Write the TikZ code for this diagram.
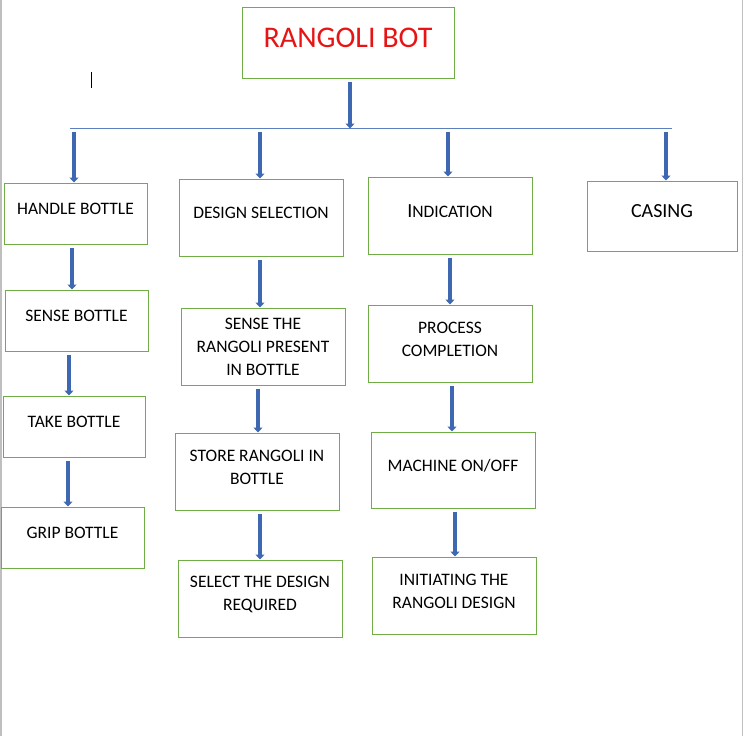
\documentclass[tikz,border=0pt]{standalone}
\usepackage{fontspec}
\setmainfont{Carlito}
\usetikzlibrary{arrows.meta}
\definecolor{boxgreen}{RGB}{112,173,71}
\definecolor{arrblue}{RGB}{63,104,178}
\definecolor{titlered}{RGB}{230,20,20}
\begin{document}
\begin{tikzpicture}[x=1pt,y=-1pt,
  box/.style={draw=boxgreen,line width=1pt,inner sep=0pt},
  lbl/.style={align=center,font=\fontsize{17.5}{23}\selectfont,yshift=4.5pt},
  arr/.style={arrblue,line width=4pt,-{Triangle[width=9pt,length=5pt]},shorten <=3pt},
  bus/.style={arrblue!85,line width=1.8pt}]
\useasboundingbox (0,0) rectangle (744,736);
\draw[gray!50,line width=1.5pt] (1,0) -- (1,736) (742.5,0) -- (742.5,736);
\draw (91,72) -- (91,88);
\node[box,minimum width=212pt,minimum height=71pt,label={[lbl,text=titlered,font=\fontsize{30}{36}\selectfont]center:RANGOLI BOT}] (title) at (348,42.5) {};
\node[box,minimum width=143pt,minimum height=61pt,label={[lbl]center:HANDLE BOTTLE}] (handle) at (75.5,213.5) {};
\node[box,minimum width=164pt,minimum height=77pt,label={[lbl]center:DESIGN SELECTION}] (design) at (261,217.5) {};
\node[box,minimum width=164pt,minimum height=77pt,label={[lbl]center:{\fontsize{20}{23}\selectfont I}NDICATION}] (indic) at (450,215.5) {};
\node[box,minimum width=150pt,minimum height=70pt,label={[lbl,font=\fontsize{20}{23}\selectfont]center:CASING}] (casing) at (662,216) {};
\node[box,minimum width=143pt,minimum height=61pt,label={[lbl]center:SENSE BOTTLE}] (sense) at (76.5,320.5) {};
\node[box,minimum width=142pt,minimum height=61pt,label={[lbl]center:TAKE BOTTLE}] (take) at (74,426.5) {};
\node[box,minimum width=143pt,minimum height=61pt,label={[lbl]center:GRIP BOTTLE}] (grip) at (72.5,537.5) {};
\node[box,minimum width=164pt,minimum height=77pt,label={[lbl,yshift=-5pt]center:SENSE THE\\RANGOLI PRESENT\\IN BOTTLE}] (senseR) at (263,346.5) {};
\node[box,minimum width=164pt,minimum height=77pt,label={[lbl]center:STORE RANGOLI IN\\BOTTLE}] (store) at (257,471.5) {};
\node[box,minimum width=164pt,minimum height=77pt,label={[lbl]center:SELECT THE DESIGN\\REQUIRED}] (select) at (260,598.5) {};
\node[box,minimum width=164pt,minimum height=77pt,label={[lbl]center:PROCESS\\COMPLETION}] (process) at (450,343.5) {};
\node[box,minimum width=164pt,minimum height=76pt,label={[lbl]center:MACHINE ON/OFF}] (machine) at (453,470) {};
\node[box,minimum width=164pt,minimum height=77pt,label={[lbl]center:INITIATING THE\\RANGOLI DESIGN}] (init) at (454,595.5) {};
\coordinate (busL) at (70,128.5);
\coordinate (busR) at (672,128.5);
\draw[bus] (busL) -- (busR);
\draw[arr] ([xshift=2pt]title.south) -- ([xshift=2pt]title.south |- busL);
\foreach \n/\dx in {handle/-1.5,design/-1,indic/-2,casing/4}
  \draw[arr] ([xshift=\dx pt]\n.north |- busL) -- ([xshift=\dx pt]\n.north);
\foreach \a/\b/\dx in {handle/sense/-3.5,sense/take/-7.5,take/grip/-6,design/senseR/-1,senseR/store/-5,store/select/3,indic/process/0,process/machine/2,machine/init/2}
  \draw[arr] ([xshift=\dx pt]\a.south) -- ([xshift=\dx pt]\b.north -| \a.south);
\end{tikzpicture}
\end{document}
